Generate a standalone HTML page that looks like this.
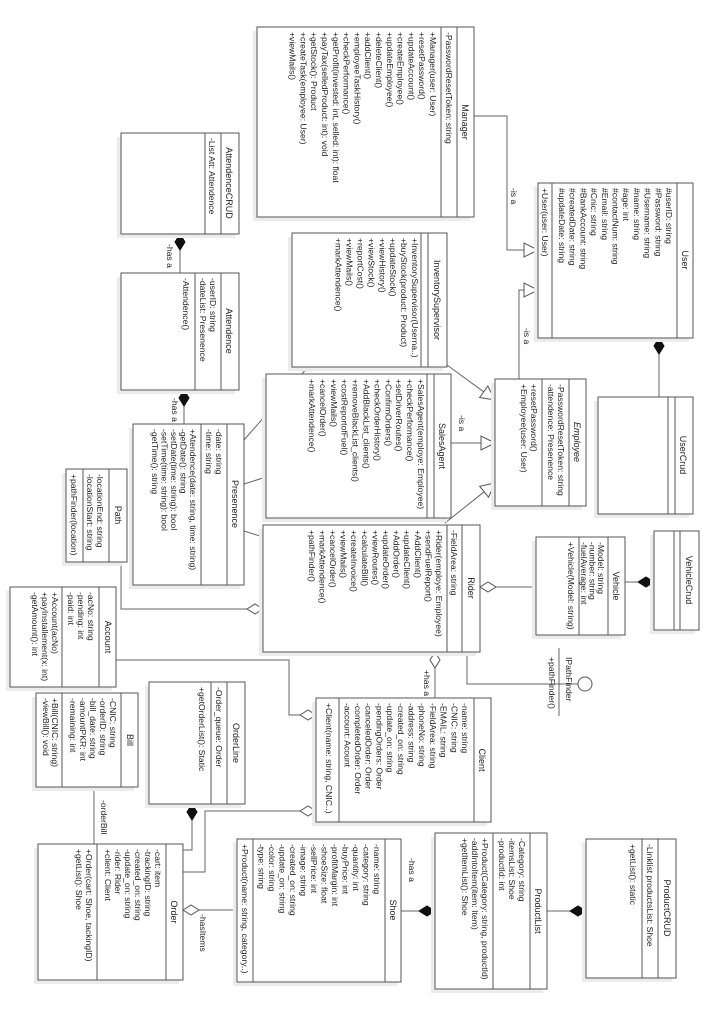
<!DOCTYPE html>
<html><head><meta charset="utf-8"><style>
html,body{margin:0;padding:0;background:#fff;}
svg{display:block;}
text{font-family:"Liberation Sans",sans-serif;font-size:8.6px;fill:#222;}
.t{text-anchor:middle;font-size:9px;}
.b{fill:#fff;stroke:#555;stroke-width:1;}
.s{fill:#ececec;stroke:none;}
.d{stroke:#555;stroke-width:1;}
.ln{fill:none;stroke:#666;stroke-width:1;}
.fd{fill:#111;stroke:#111;}
.hd{fill:#fff;stroke:#555;}
</style></head><body>
<svg width="704" height="1023" viewBox="0 0 704 1023" xmlns="http://www.w3.org/2000/svg">

<!-- connectors -->
<line class="ln" x1="180" y1="250" x2="180" y2="273"/>
<polygon class="fd" points="180,234 185,242 180,250 175,242"/>
<line class="ln" x1="184" y1="406" x2="184" y2="424"/>
<polygon class="fd" points="184,390 189,398 184,406 179,398"/>
<polyline class="ln" points="474,116 507,116 507,250 524,250"/>
<polygon class="hd" points="538,250 524,243 524,257"/>
<polyline class="ln" points="519,379 519,290 524,290"/>
<polygon class="hd" points="538,290 524,283 524,297"/>
<line class="ln" x1="447" y1="365" x2="483.7" y2="391.8"/>
<polygon class="hd" points="495,400 479.6,397.5 487.8,386.1"/>
<line class="ln" x1="451" y1="443" x2="481" y2="443"/>
<polygon class="hd" points="495,443 481,436 481,450"/>
<line class="ln" x1="445" y1="523" x2="484.1" y2="491.8"/>
<polygon class="hd" points="495,483 488.5,497.2 479.7,486.3"/>
<line class="ln" x1="659" y1="354" x2="659" y2="397"/>
<polygon class="fd" points="659,338 664,346 659,354 654,346"/>
<line class="ln" x1="496" y1="587" x2="536" y2="587"/>
<polygon class="hd" points="480,587 488,582 496,587 488,592"/>
<line class="ln" x1="625" y1="582" x2="638" y2="582"/>
<polygon class="fd" points="638,582 646,577 654,582 646,587"/>
<polyline class="ln" points="467,652 467,684 578,684"/>
<circle cx="585" cy="684" r="7" fill="#fff" stroke="#555"/>
<line class="ln" x1="559" y1="648" x2="559" y2="716"/>
<line class="ln" x1="435" y1="668" x2="435" y2="698"/>
<polygon class="hd" points="435,652 440,660 435,668 430,660"/>
<polyline class="ln" points="121,562 121,609 247,609"/>
<polygon class="hd" points="247,609 255,604 263,609 255,614"/>
<polyline class="ln" points="116,660 289,660 289,715 300,715"/>
<polygon class="hd" points="300,715 308,710 316,715 308,720"/>
<polyline class="ln" points="192,820 192,850 183,850"/>
<polygon class="fd" points="192,804 197,812 192,820 187,812"/>
<polyline class="ln" points="300,811 205,811 205,872 183,872"/>
<polygon class="hd" points="300,811 308,806 316,811 308,816"/>
<line class="ln" x1="94" y1="787" x2="94" y2="844"/>
<line class="ln" x1="199" y1="910" x2="237" y2="910"/>
<polygon class="hd" points="183,910 191,905 199,910 191,915"/>
<line class="ln" x1="401" y1="911" x2="419" y2="911"/>
<polygon class="fd" points="419,911 427,906 435,911 427,916"/>
<line class="ln" x1="547" y1="911" x2="570" y2="911"/>
<polygon class="fd" points="570,911 578,906 586,911 578,916"/>
<line class="ln" x1="244" y1="440" x2="308" y2="367"/>
<line class="ln" x1="244" y1="484" x2="266" y2="477"/>
<line class="ln" x1="244" y1="531" x2="263" y2="537"/>

<!-- connector labels -->
<text transform="translate(167,244) rotate(90)">-has a</text>
<text transform="translate(172,398) rotate(90)">-has a</text>
<text transform="translate(511,188) rotate(90)">-is a</text>
<text transform="translate(524,328) rotate(90)">-is a</text>
<text transform="translate(459,415) rotate(90)">-is a</text>
<text transform="translate(424,670) rotate(90)">+has a</text>
<text transform="translate(101,800) rotate(90)">-orderBill</text>
<text transform="translate(200,914) rotate(90)">-hasItems</text>
<text transform="translate(409,858) rotate(90)">-has a</text>
<text transform="translate(566,657) rotate(90)">IPathFinder</text>
<text transform="translate(549,657) rotate(90)">+pathFinder()</text>

<!-- Manager -->
<g transform="translate(474,27) rotate(90)">
<rect class="s" x="4" y="4" width="190" height="217"/>
<rect class="b" x="0" y="0" width="190" height="217"/>
<line class="d" x1="0" y1="17" x2="190" y2="17"/><line class="d" x1="0" y1="33" x2="190" y2="33"/>
<text class="t" x="95" y="12">Manager</text>
<text x="5" y="28">-PasswordResetToken: string</text>
<text x="5" y="44"><tspan x="5">+Manager(user: User)</tspan><tspan x="5" dy="10.8">+resetPassword()</tspan><tspan x="5" dy="10.8">+updateAccount()</tspan><tspan x="5" dy="10.8">+createEmployee()</tspan><tspan x="5" dy="10.8">+updateEmployee()</tspan><tspan x="5" dy="10.8">+deleteClient()</tspan><tspan x="5" dy="10.8">+addClient()</tspan><tspan x="5" dy="10.8">+employeeTaskHistory()</tspan><tspan x="5" dy="10.8">+checkPerformance()</tspan><tspan x="5" dy="10.8">+getProfit(invested: int, selled: int): float</tspan><tspan x="5" dy="10.8">+payTax(selledProduct: int): void</tspan><tspan x="5" dy="10.8">+getStock(): Product</tspan><tspan x="5" dy="10.8">+createTask(employee: User)</tspan><tspan x="5" dy="10.8">+viewMails()</tspan></text>
</g>

<!-- AttendenceCRUD -->
<g transform="translate(239,133) rotate(90)">
<rect class="s" x="4" y="4" width="101" height="118"/>
<rect class="b" x="0" y="0" width="101" height="118"/>
<line class="d" x1="0" y1="18" x2="101" y2="18"/><line class="d" x1="0" y1="34" x2="101" y2="34"/>
<text class="t" x="50" y="13">AttendenceCRUD</text>
<text x="5" y="30">-List Att: Attendence</text>
</g>

<!-- Attendence -->
<g transform="translate(239,273) rotate(90)">
<rect class="s" x="4" y="4" width="117" height="118"/>
<rect class="b" x="0" y="0" width="117" height="118"/>
<line class="d" x1="0" y1="18" x2="117" y2="18"/><line class="d" x1="0" y1="44" x2="117" y2="44"/>
<text class="t" x="58" y="13">Attendence</text>
<text x="5" y="29"><tspan x="5">-userID: string</tspan><tspan x="5" dy="10">-dateList: Presenence</tspan></text>
<text x="5" y="56">-Attendence()</text>
</g>

<!-- Presenence -->
<g transform="translate(244,424) rotate(90)">
<rect class="s" x="4" y="4" width="161" height="111"/>
<rect class="b" x="0" y="0" width="161" height="111"/>
<line class="d" x1="0" y1="17" x2="161" y2="17"/><line class="d" x1="0" y1="43" x2="161" y2="43"/>
<text class="t" x="80" y="12">Presenence</text>
<text x="5" y="28"><tspan x="5">-date: string</tspan><tspan x="5" dy="10">-time: string</tspan></text>
<text x="5" y="54"><tspan x="5">+Atendence(date: string, time: string)</tspan><tspan x="5" dy="9.5">-getDate(): string</tspan><tspan x="5" dy="9.5">-setDate(time: string): bool</tspan><tspan x="5" dy="9.5">-setTime(time: string): bool</tspan><tspan x="5" dy="9.5">-getTime(): string</tspan></text>
</g>

<!-- Path -->
<g transform="translate(127,469) rotate(90)">
<rect class="s" x="4" y="4" width="93" height="61"/>
<rect class="b" x="0" y="0" width="93" height="61"/>
<line class="d" x1="0" y1="18" x2="93" y2="18"/><line class="d" x1="0" y1="44" x2="93" y2="44"/>
<text class="t" x="46" y="12">Path</text>
<text x="5" y="30"><tspan x="5">-locationEnd: string</tspan><tspan x="5" dy="10">-locationStart: string</tspan></text>
<text x="5" y="56">+pathFinder(location)</text>
</g>

<!-- Account -->
<g transform="translate(116,587) rotate(90)">
<rect class="s" x="4" y="4" width="100" height="106"/>
<rect class="b" x="0" y="0" width="100" height="106"/>
<line class="d" x1="0" y1="17" x2="100" y2="17"/><line class="d" x1="0" y1="54" x2="100" y2="54"/>
<text class="t" x="50" y="11">Account</text>
<text x="5" y="28"><tspan x="5">-acNo: string</tspan><tspan x="5" dy="10">-pending: int</tspan><tspan x="5" dy="10">-paid: int</tspan></text>
<text x="5" y="64"><tspan x="5">+Account(acNo)</tspan><tspan x="5" dy="10">+payInstallement(x: int)</tspan><tspan x="5" dy="10">-getAmount(): int</tspan></text>
</g>

<!-- Rider -->
<g transform="translate(480,525) rotate(90)">
<rect class="s" x="4" y="4" width="127" height="217"/>
<rect class="b" x="0" y="0" width="127" height="217"/>
<line class="d" x1="0" y1="18" x2="127" y2="18"/><line class="d" x1="0" y1="33" x2="127" y2="33"/>
<text class="t" x="63" y="12">Rider</text>
<text x="5" y="29">-FieldArea: string</text>
<text x="5" y="44"><tspan x="5">+Rider(employe: Employee)</tspan><tspan x="5" dy="10.6">+sendFuelReport()</tspan><tspan x="5" dy="10.6">+AddClient()</tspan><tspan x="5" dy="10.6">+updateClient()</tspan><tspan x="5" dy="10.6">+AddOrder()</tspan><tspan x="5" dy="10.6">+updateOrder()</tspan><tspan x="5" dy="10.6">+viewRoutes()</tspan><tspan x="5" dy="10.6">+calculateBill()</tspan><tspan x="5" dy="10.6">+createInvoice()</tspan><tspan x="5" dy="10.6">+viewMails()</tspan><tspan x="5" dy="10.6">+cancelOrder()</tspan><tspan x="5" dy="10.6">+markAttendence()</tspan><tspan x="5" dy="10.6">+pathFinder()</tspan></text>
</g>

<!-- SalesAgent -->
<g transform="translate(451,374) rotate(90)">
<rect class="s" x="4" y="4" width="144" height="185"/>
<rect class="b" x="0" y="0" width="144" height="185"/>
<line class="d" x1="0" y1="17" x2="144" y2="17"/><line class="d" x1="0" y1="24" x2="144" y2="24"/>
<text class="t" x="72" y="12">SalesAgent</text>
<text x="5" y="33"><tspan x="5">+SalesAgent(employe: Employee)</tspan><tspan x="5" dy="10.9">+checkPerformance()</tspan><tspan x="5" dy="10.9">+setDriverRoutes()</tspan><tspan x="5" dy="10.9">+ConfirmOrders()</tspan><tspan x="5" dy="10.9">+checkOrderHistory()</tspan><tspan x="5" dy="10.9">+AddBlackList_clients()</tspan><tspan x="5" dy="10.9">+removeBlackList_clients()</tspan><tspan x="5" dy="10.9">+costReportofFuel()</tspan><tspan x="5" dy="10.9">+viewMails()</tspan><tspan x="5" dy="10.9">+cancelOrder()</tspan><tspan x="5" dy="10.9">+markAttendence()</tspan></text>
</g>

<!-- InventorySupervisor -->
<g transform="translate(447,233) rotate(90)">
<rect class="s" x="4" y="4" width="134" height="155"/>
<rect class="b" x="0" y="0" width="134" height="155"/>
<line class="d" x1="0" y1="19" x2="134" y2="19"/><line class="d" x1="0" y1="26" x2="134" y2="26"/>
<text class="t" x="67" y="13">InventorySupervisor</text>
<text x="5" y="35"><tspan x="5">+InventorySupervisor(Userna..)</tspan><tspan x="5" dy="10.9">+buyStock(product: Product)</tspan><tspan x="5" dy="10.9">+updateStock()</tspan><tspan x="5" dy="10.9">+viewHistory()</tspan><tspan x="5" dy="10.9">+viewStock()</tspan><tspan x="5" dy="10.9">+reportCost()</tspan><tspan x="5" dy="10.9">+viewMails()</tspan><tspan x="5" dy="10.9">+markAttendence()</tspan></text>
</g>

<!-- User -->
<g transform="translate(693,183) rotate(90)">
<rect class="s" x="4" y="4" width="155" height="155"/>
<rect class="b" x="0" y="0" width="155" height="155"/>
<line class="d" x1="0" y1="16" x2="155" y2="16"/><line class="d" x1="0" y1="141" x2="155" y2="141"/>
<text class="t" x="77" y="11">User</text>
<text x="5" y="27"><tspan x="5">#userID: string</tspan><tspan x="5" dy="10.7">#Password: string</tspan><tspan x="5" dy="10.7">#Username: string</tspan><tspan x="5" dy="10.7">#name: string</tspan><tspan x="5" dy="10.7">#age: int</tspan><tspan x="5" dy="10.7">#contactNum: string</tspan><tspan x="5" dy="10.7">#Email: string</tspan><tspan x="5" dy="10.7">#Cnic: string</tspan><tspan x="5" dy="10.7">#BankAccount: string</tspan><tspan x="5" dy="10.7">#createdDate: string</tspan><tspan x="5" dy="10.7">#updateDate: string</tspan></text>
<text x="5" y="151">+User(user: User)</text>
</g>

<!-- Employee -->
<g transform="translate(586,379) rotate(90)">
<rect class="s" x="4" y="4" width="127" height="91"/>
<rect class="b" x="0" y="0" width="127" height="91"/>
<line class="d" x1="0" y1="17" x2="127" y2="17"/><line class="d" x1="0" y1="44" x2="127" y2="44"/>
<text class="t" x="63" y="12" font-style="italic">Employee</text>
<text x="5" y="28"><tspan x="5">-PasswordResetToken: string</tspan><tspan x="5" dy="10">-attendence: Presenence</tspan></text>
<text x="5" y="55"><tspan x="5">+resetPassword()</tspan><tspan x="5" dy="10">+Employee(user: User)</tspan></text>
</g>

<!-- UserCrud -->
<g transform="translate(693,397) rotate(90)">
<rect class="s" x="4" y="4" width="117" height="95"/>
<rect class="b" x="0" y="0" width="117" height="95"/>
<line class="d" x1="0" y1="18" x2="117" y2="18"/><line class="d" x1="0" y1="25" x2="117" y2="25"/>
<text class="t" x="58" y="13">UserCrud</text>
</g>

<!-- Vehicle -->
<g transform="translate(625,537) rotate(90)">
<rect class="s" x="4" y="4" width="98" height="89"/>
<rect class="b" x="0" y="0" width="98" height="89"/>
<line class="d" x1="0" y1="17" x2="98" y2="17"/><line class="d" x1="0" y1="46" x2="98" y2="46"/>
<text class="t" x="49" y="12">Vehicle</text>
<text x="5" y="27"><tspan x="5">-Model: string</tspan><tspan x="5" dy="8.5">-number: string</tspan><tspan x="5" dy="8.5">-fuelAverage: int</tspan></text>
<text x="5" y="57">+Vehicle(Model: string)</text>
</g>

<!-- VehicleCrud -->
<g transform="translate(699,531) rotate(90)">
<rect class="s" x="4" y="4" width="99" height="45"/>
<rect class="b" x="0" y="0" width="99" height="45"/>
<line class="d" x1="0" y1="19" x2="99" y2="19"/><line class="d" x1="0" y1="25" x2="99" y2="25"/>
<text class="t" x="49" y="13">VehicleCrud</text>
</g>

<!-- Client -->
<g transform="translate(491,698) rotate(90)">
<rect class="s" x="4" y="4" width="124" height="175"/>
<rect class="b" x="0" y="0" width="124" height="175"/>
<line class="d" x1="0" y1="17" x2="124" y2="17"/><line class="d" x1="0" y1="152" x2="124" y2="152"/>
<text class="t" x="62" y="12">Client</text>
<text x="5" y="29"><tspan x="5">-name: string</tspan><tspan x="5" dy="10.7">-CNIC: string</tspan><tspan x="5" dy="10.7">-EMAIL: string</tspan><tspan x="5" dy="10.7">-FieldArea: string</tspan><tspan x="5" dy="10.7">-phoneNo: string</tspan><tspan x="5" dy="10.7">-address: string</tspan><tspan x="5" dy="10.7">-created_on: string</tspan><tspan x="5" dy="10.7">-update_on: string</tspan><tspan x="5" dy="10.7">-pendingOrders: Order</tspan><tspan x="5" dy="10.7">-canceledOrder: Order</tspan><tspan x="5" dy="10.7">-completedOrder: Order</tspan><tspan x="5" dy="10.7">-account: Acount</tspan></text>
<text x="5" y="165">+Client(name: string, CNIC..)</text>
</g>

<!-- OrderLine -->
<g transform="translate(245,682) rotate(90)">
<rect class="s" x="4" y="4" width="122" height="96"/>
<rect class="b" x="0" y="0" width="122" height="96"/>
<line class="d" x1="0" y1="18" x2="122" y2="18"/><line class="d" x1="0" y1="34" x2="122" y2="34"/>
<text class="t" x="61" y="12">OrderLine</text>
<text x="5" y="29">-Order_queue: Order</text>
<text x="5" y="46">+getOrderList(): Static</text>
</g>

<!-- Order -->
<g transform="translate(183,844) rotate(90)">
<rect class="s" x="4" y="4" width="136" height="145"/>
<rect class="b" x="0" y="0" width="136" height="145"/>
<line class="d" x1="0" y1="17" x2="136" y2="17"/><line class="d" x1="0" y1="86" x2="136" y2="86"/>
<text class="t" x="68" y="12">Order</text>
<text x="5" y="28"><tspan x="5">-cart: item</tspan><tspan x="5" dy="10">-trackingID: string</tspan><tspan x="5" dy="10">-created_on: string</tspan><tspan x="5" dy="10">-update_on: string</tspan><tspan x="5" dy="10">-rider: Rider</tspan><tspan x="5" dy="10">+client: Client</tspan></text>
<text x="5" y="97"><tspan x="5">+Order(cart: Shoe, tackingID)</tspan><tspan x="5" dy="10">+getList(): Shoe</tspan></text>
</g>

<!-- Bill -->
<g transform="translate(138,693) rotate(90)">
<rect class="s" x="4" y="4" width="94" height="102"/>
<rect class="b" x="0" y="0" width="94" height="102"/>
<line class="d" x1="0" y1="17" x2="94" y2="17"/><line class="d" x1="0" y1="76" x2="94" y2="76"/>
<text class="t" x="47" y="11">Bill</text>
<text x="5" y="28"><tspan x="5">-CNIC: string</tspan><tspan x="5" dy="10">-orderID: string</tspan><tspan x="5" dy="10">-bill_date: string</tspan><tspan x="5" dy="10">-amountPKR: int</tspan><tspan x="5" dy="10">-remaining: int</tspan></text>
<text x="5" y="86"><tspan x="5">+Bill(CNIC: string)</tspan><tspan x="5" dy="9">-viewBill(): void</tspan></text>
</g>

<!-- Shoe -->
<g transform="translate(401,839) rotate(90)">
<rect class="s" x="4" y="4" width="143" height="164"/>
<rect class="b" x="0" y="0" width="143" height="164"/>
<line class="d" x1="0" y1="16" x2="143" y2="16"/><line class="d" x1="0" y1="148" x2="143" y2="148"/>
<text class="t" x="71" y="11">Shoe</text>
<text x="5" y="27"><tspan x="5">-name: string</tspan><tspan x="5" dy="10.5">-category: string</tspan><tspan x="5" dy="10.5">-quantity: int</tspan><tspan x="5" dy="10.5">-buyPrice: int</tspan><tspan x="5" dy="10.5">-profitMargin: int</tspan><tspan x="5" dy="10.5">-shoeSize: float</tspan><tspan x="5" dy="10.5">-sellPrice: int</tspan><tspan x="5" dy="10.5">-image: string</tspan><tspan x="5" dy="10.5">-created_on: string</tspan><tspan x="5" dy="10.5">-update_on: string</tspan><tspan x="5" dy="10.5">-color: string</tspan><tspan x="5" dy="10.5">-type: string</tspan></text>
<text x="5" y="159">+Product(name: string, category..)</text>
</g>

<!-- ProductList -->
<g transform="translate(547,833) rotate(90)">
<rect class="s" x="4" y="4" width="156" height="112"/>
<rect class="b" x="0" y="0" width="156" height="112"/>
<line class="d" x1="0" y1="17" x2="156" y2="17"/><line class="d" x1="0" y1="54" x2="156" y2="54"/>
<text class="t" x="78" y="12">ProductList</text>
<text x="5" y="28"><tspan x="5">-Category: string</tspan><tspan x="5" dy="10">-itemsList: Shoe</tspan><tspan x="5" dy="10">-productId: int</tspan></text>
<text x="5" y="65"><tspan x="5">+Product(Category: string, productId)</tspan><tspan x="5" dy="10">-addIntoItem(item: Item)</tspan><tspan x="5" dy="10">+getItemList(): Shoe</tspan></text>
</g>

<!-- ProductCRUD -->
<g transform="translate(676,839) rotate(90)">
<rect class="s" x="4" y="4" width="139" height="90"/>
<rect class="b" x="0" y="0" width="139" height="90"/>
<line class="d" x1="0" y1="18" x2="139" y2="18"/><line class="d" x1="0" y1="34" x2="139" y2="34"/>
<text class="t" x="69" y="12">ProductCRUD</text>
<text x="5" y="29">-Linklist productsList: Shoe</text>
<text x="5" y="46">+getList(): static</text>
</g>

</svg>
</body></html>
